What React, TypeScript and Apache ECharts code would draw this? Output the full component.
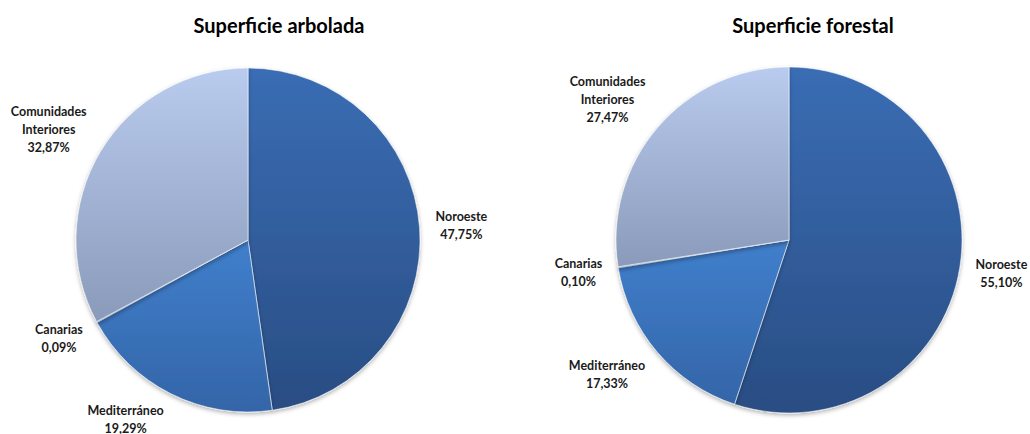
import React, { useEffect, useRef } from "react";
import * as echarts from "echarts";

const categories = ["Noroeste", "Mediterráneo", "Canarias", "Comunidades Interiores"];
const arbolada = [47.75, 19.29, 0.09, 32.87];
const forestal = [55.1, 17.33, 0.1, 27.47];
const titles = ["Superficie arbolada", "Superficie forestal"];

const FONT = "Lato, 'Open Sans', sans-serif";

const grad = (top: string, bottom: string) =>
  new echarts.graphic.LinearGradient(0, 0, 0, 1, [
    { offset: 0, color: top },
    { offset: 1, color: bottom },
  ]);

const sliceColors = () => [
  grad("#3a6db4", "#294d83"),
  grad("#407fcc", "#3465a8"),
  grad("#8bbcf5", "#6aa2e8"),
  grad("#b9cbee", "#8a9aba"),
];

const fmt = (v: number) => v.toFixed(2).replace(".", ",") + "%";

export default function App() {
  const ref = useRef<HTMLDivElement>(null);
  useEffect(() => {
    if (!ref.current) return;
    const chart = echarts.init(ref.current, undefined, { renderer: "svg" });
    const H = 434;
    const pies = [
      { values: arbolada, cx: 248, cy: 240, r: 172 },
      { values: forestal, cx: 789, cy: 240, r: 173 },
    ];
    const makeLayout = (p: { values: number[]; cx: number; cy: number; r: number }) =>
      (params: any) => {
        const total = p.values.reduce((a, b) => a + b, 0);
        let cum = 0;
        for (let i = 0; i < params.dataIndex; i++) cum += p.values[i];
        const mid = (cum + p.values[params.dataIndex] / 2) / total;
        const th = mid * Math.PI * 2;
        const ux = Math.sin(th);
        const uy = -Math.cos(th);
        const w = params.labelRect.width / 2;
        const h = params.labelRect.height / 2;
        const D = p.r + 16;
        const ax = p.cx + D * ux;
        const ay = p.cy + D * uy;
        let x = ax + w * Math.sign(ux);
        let y = ay + h * uy;
        y = Math.min(y, H - h + 3);
        return { x, y, align: "center", verticalAlign: "middle" };
      };
    const series = pies.map((p) => {
      const cols = sliceColors();
      return {
        type: "pie",
        center: [p.cx, p.cy],
        radius: p.r,
        startAngle: 90,
        clockwise: true,
        avoidLabelOverlap: false,
        data: categories.map((c, i) => ({
          name: c,
          value: p.values[i],
          itemStyle: { color: cols[i] },
        })),
        itemStyle: {
          borderColor: "rgba(255,255,255,0.55)",
          borderWidth: 1,
          shadowBlur: 4,
          shadowOffsetY: 2,
          shadowColor: "rgba(0,0,0,0.3)",
        },
        label: {
          show: true,
          position: "outside",
          formatter: (prm: any) => prm.name.replace(" ", "\n") + "\n" + fmt(prm.value),
          fontFamily: FONT,
          fontWeight: "bold",
          fontSize: 12.5,
          lineHeight: 18,
          color: "#1a1a1a",
        },
        labelLine: { show: false },
        labelLayout: makeLayout(p),
        emphasis: { disabled: true },
      };
    });
    const titleStyle = { fontFamily: FONT, fontWeight: "bold", fontSize: 20, color: "#000" };
    chart.setOption({
      animation: false,
      backgroundColor: "#ffffff",
      title: [
        { text: titles[0], left: 274, top: 10, textAlign: "center", textStyle: titleStyle },
        { text: titles[1], left: 808, top: 10, textAlign: "center", textStyle: titleStyle },
      ],
      series,
    });
    return () => chart.dispose();
  }, []);
  return (
    <div
      ref={ref}
      style={{ position: "fixed", left: 0, top: 0, width: 1030, height: 434 }}
    />
  );
}
